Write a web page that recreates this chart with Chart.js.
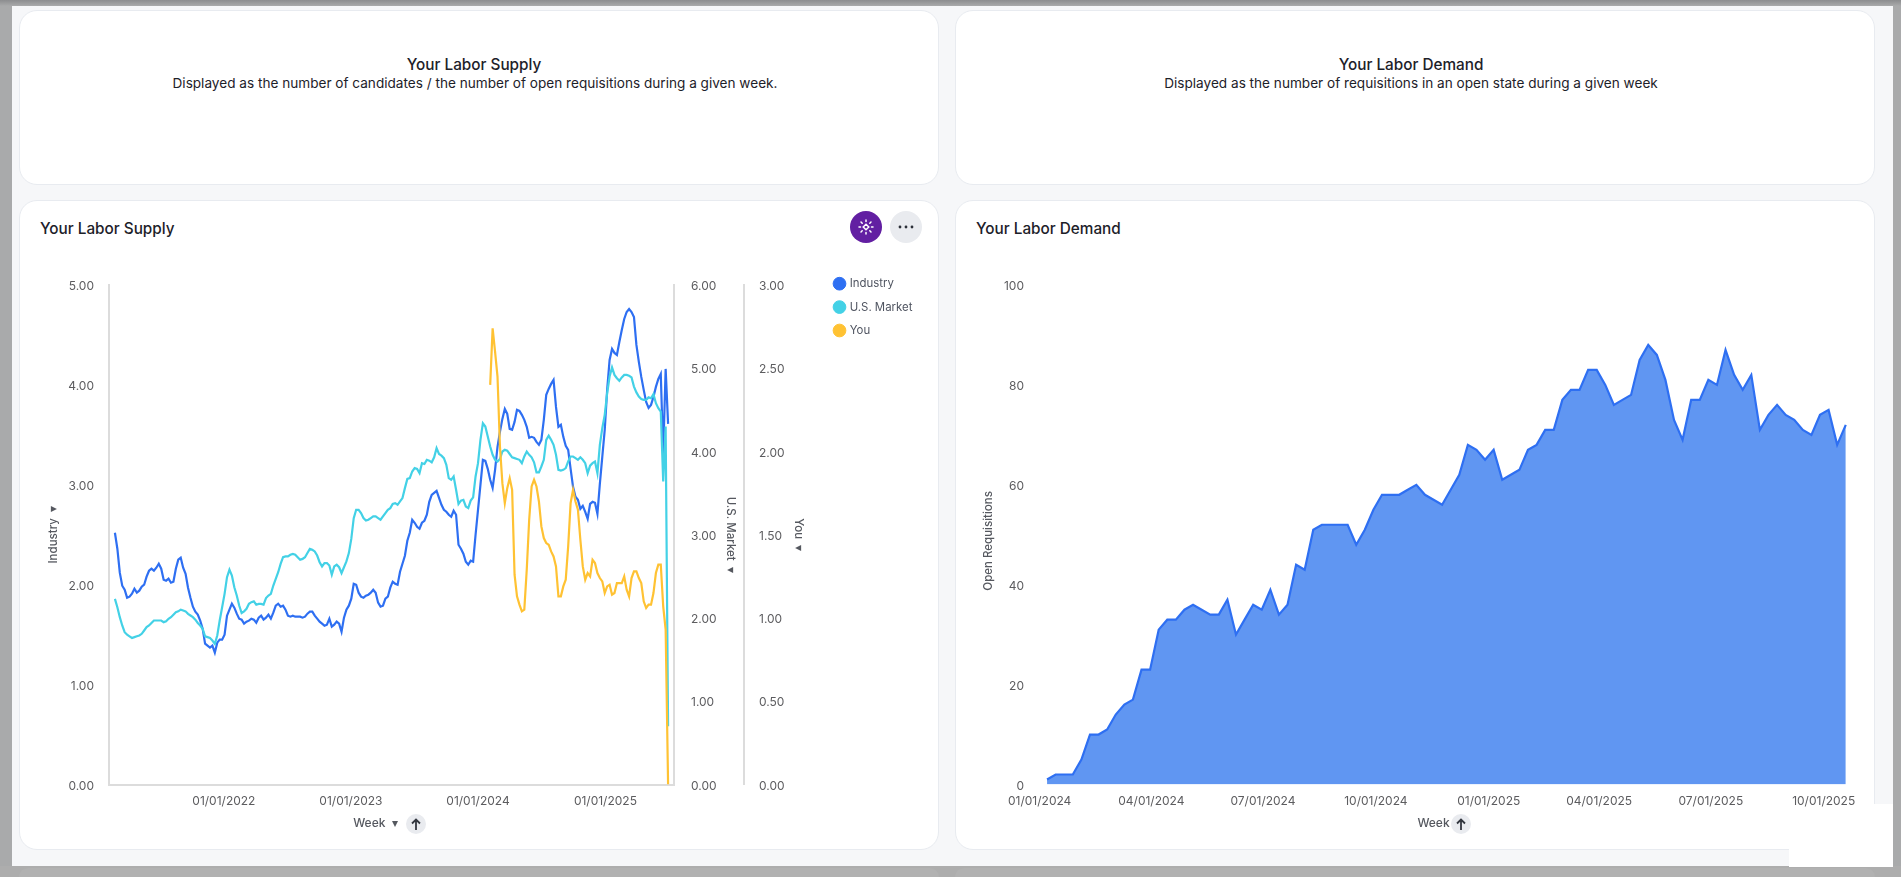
<!DOCTYPE html>
<html><head><meta charset="utf-8">
<script src="https://cdn.jsdelivr.net/npm/chart.js@4/dist/chart.umd.js"></script>
<style>
html,body{margin:0;padding:0;width:1901px;height:877px;overflow:hidden;background:#a9aaab;font-family:Inter,sans-serif;color:#1d2129}
#page{position:absolute;left:12px;top:6px;width:1881px;height:860px;background:#f6f7f9}
#topshade{position:absolute;left:0;top:0;width:1901px;height:6px;background:linear-gradient(#8c8d8f,#a9aaab)}
#botshade{position:absolute;left:0;top:866px;width:1901px;height:11px;background:#adadad}
.peek{position:absolute;top:868px;height:9px;width:920px;background:#b1b1b1;border-radius:16px 16px 0 0}
.card{position:absolute;background:#fff;border:1px solid #e8ebf0;border-radius:18px;box-sizing:border-box}
.h{position:absolute;white-space:nowrap;transform:translate(-50%,-50%);text-align:center}
.t16{font-size:15.3px;font-weight:500;color:#1d2129}
.t14{font-size:13.6px;font-weight:400;color:#1d2129}
.ct{position:absolute;font-size:15.3px;font-weight:500;color:#1d2129;white-space:nowrap;line-height:20px}
canvas{position:absolute}
.btn{position:absolute;border-radius:50%;display:flex;align-items:center;justify-content:center}
#patch{position:absolute;left:1789px;top:804px;width:104px;height:63px;background:#fff}
</style></head><body>
<div id="page"></div><div id="topshade"></div><div id="botshade"></div>
<div class="peek" style="left:19px"></div><div class="peek" style="left:955px"></div>
<div class="card" style="left:19px;top:10px;width:920px;height:175px"></div>
<div class="card" style="left:955px;top:10px;width:920px;height:175px"></div>
<div class="h t16" style="left:474px;top:64px">Your Labor Supply</div>
<div class="h t14" style="left:475px;top:83px">Displayed as the number of candidates / the number of open requisitions during a given week.</div>
<div class="h t16" style="left:1411px;top:64px">Your Labor Demand</div>
<div class="h t14" style="left:1411px;top:83px">Displayed as the number of requisitions in an open state during a given week</div>
<div class="card" style="left:19px;top:200px;width:920px;height:650px"></div>
<div class="card" style="left:955px;top:200px;width:920px;height:650px"></div>
<div id="patch"></div>
<div class="ct" style="left:40px;top:219px">Your Labor Supply</div>
<div class="ct" style="left:976px;top:219px">Your Labor Demand</div>
<div class="btn" style="left:850px;top:211px;width:32px;height:32px;background:#621fa2">
<svg width="16" height="16" viewBox="0 0 16 16" fill="none" stroke="#fff" stroke-width="1.5" stroke-linecap="round"><path d="M8 1v1.5M8 13.5V15M1 8h1.5M13.5 8H15M3 3l1.2 1.2M13 3l-1.2 1.2M3 13l1.2-1.2M13 13l-1.2-1.2"/><path d="M8 5.2L10.8 8 8 10.8 5.2 8z"/></svg></div>
<div class="btn" style="left:890px;top:211px;width:32px;height:32px;background:#e9ebef">
<svg width="16" height="4" viewBox="0 0 16 4" fill="#2b2f38"><circle cx="2" cy="2" r="1.4"/><circle cx="8" cy="2" r="1.4"/><circle cx="14" cy="2" r="1.4"/></svg></div>
<canvas id="c1" style="left:20px;top:200px;width:918px;height:650px"></canvas>
<canvas id="c2" style="left:956px;top:200px;width:918px;height:650px"></canvas>
<div class="btn" style="left:406px;top:814px;width:20px;height:20px;background:#e9ebef">
<svg width="10" height="12" viewBox="0 0 10 12" fill="none" stroke="#33373f" stroke-width="1.8"><path d="M5 12V2M1 5.5L5 1.5 9 5.5"/></svg></div>
<div class="btn" style="left:1451px;top:814px;width:20px;height:20px;background:#e9ebef">
<svg width="10" height="12" viewBox="0 0 10 12" fill="none" stroke="#33373f" stroke-width="1.8"><path d="M5 12V2M1 5.5L5 1.5 9 5.5"/></svg></div>
<script>
const supplyStart = '2021-02-22';
const demandStart = '2024-01-07';
const supplyTickDates = ['2022-01-01','2023-01-01','2024-01-01','2025-01-01'];
const demandTickDates = ['2024-01-01','2024-04-01','2024-07-01','2024-10-01','2025-01-01','2025-04-01','2025-07-01','2025-10-01'];
const seriesNames = ['Industry','U.S. Market','You'];
const industry = [
2.52,2.36,2.12,1.99,1.95,1.87,1.88,1.91,1.96,1.92,
1.94,1.98,2.00,2.08,2.14,2.16,2.14,2.17,2.21,2.16,
2.05,2.04,2.06,2.02,2.03,2.16,2.25,2.27,2.17,2.11,
1.97,1.87,1.78,1.73,1.70,1.64,1.56,1.41,1.39,1.37,
1.39,1.32,1.42,1.45,1.45,1.50,1.69,1.75,1.81,1.77,
1.71,1.66,1.65,1.61,1.63,1.64,1.66,1.65,1.62,1.67,
1.69,1.65,1.67,1.70,1.66,1.72,1.79,1.81,1.78,1.79,
1.75,1.69,1.68,1.69,1.68,1.68,1.68,1.67,1.68,1.71,
1.73,1.73,1.69,1.66,1.63,1.61,1.59,1.60,1.66,1.58,
1.60,1.63,1.61,1.53,1.67,1.75,1.79,1.86,2.01,2.00,
1.92,1.88,1.87,1.89,1.90,1.92,1.95,1.92,1.82,1.78,
1.79,1.86,1.88,1.97,2.03,2.01,2.00,2.13,2.21,2.29,
2.44,2.52,2.65,2.62,2.58,2.56,2.62,2.64,2.70,2.83,
2.90,2.92,2.94,2.87,2.80,2.75,2.73,2.70,2.68,2.74,
2.70,2.40,2.36,2.31,2.23,2.20,2.24,2.23,2.50,2.75,
3.00,3.25,3.24,3.16,3.05,2.97,3.15,3.38,3.53,3.66,
3.76,3.71,3.56,3.55,3.63,3.75,3.74,3.70,3.65,3.58,
3.47,3.48,3.47,3.43,3.40,3.45,3.65,3.90,3.96,4.01,
4.05,3.78,3.58,3.60,3.48,3.39,3.35,3.16,2.98,2.88,
2.85,2.76,2.79,2.73,2.66,2.81,2.83,2.82,2.71,3.01,
3.28,3.55,3.95,4.25,4.36,4.32,4.30,4.43,4.55,4.66,
4.73,4.76,4.73,4.68,4.40,4.23,4.08,3.95,3.83,3.77,
3.80,3.88,3.98,4.06,4.11,3.31,4.16,3.61];
const usMarket = [
2.23,2.13,2.01,1.91,1.83,1.80,1.78,1.76,1.77,1.78,
1.79,1.81,1.85,1.89,1.91,1.94,1.97,1.97,1.97,1.97,
1.95,1.96,1.99,2.01,2.04,2.07,2.08,2.10,2.09,2.08,
2.05,2.03,2.01,1.98,1.94,1.91,1.87,1.78,1.77,1.76,
1.73,1.69,1.79,1.97,2.13,2.29,2.49,2.58,2.51,2.37,
2.27,2.15,2.06,2.08,2.11,2.17,2.19,2.20,2.16,2.17,
2.17,2.16,2.24,2.27,2.29,2.39,2.47,2.55,2.65,2.73,
2.74,2.74,2.76,2.77,2.76,2.73,2.70,2.71,2.73,2.78,
2.83,2.82,2.80,2.75,2.67,2.62,2.66,2.66,2.63,2.52,
2.62,2.64,2.61,2.54,2.61,2.68,2.78,2.95,3.20,3.30,
3.30,3.26,3.20,3.17,3.18,3.20,3.22,3.22,3.20,3.18,
3.22,3.26,3.30,3.32,3.37,3.38,3.36,3.40,3.44,3.56,
3.67,3.68,3.76,3.80,3.79,3.74,3.86,3.85,3.90,3.89,
3.87,3.93,4.04,3.97,3.95,3.92,3.84,3.68,3.66,3.70,
3.54,3.37,3.41,3.42,3.34,3.32,3.41,3.45,3.70,3.86,
4.14,4.34,4.30,4.18,4.06,3.96,3.90,3.88,3.91,4.00,
4.02,4.01,3.97,3.93,3.92,3.91,3.90,3.86,3.94,4.00,
3.96,3.93,3.87,3.75,3.75,3.82,3.90,4.14,4.19,4.14,
4.08,3.96,3.78,3.77,3.78,3.80,3.88,3.94,3.94,3.92,
3.90,3.93,3.90,3.86,3.74,3.83,3.86,3.88,3.74,4.08,
4.28,4.44,4.70,4.90,5.01,4.92,4.88,4.85,4.89,4.92,
4.92,4.91,4.89,4.78,4.71,4.66,4.63,4.62,4.62,4.65,
4.64,4.69,4.58,4.52,4.48,3.64,4.30,0.70];
const youLeadingGaps = 154;
const you = [
2.40,2.74,2.60,2.45,2.03,1.81,
1.69,1.78,1.84,1.77,1.26,1.13,1.08,1.04,1.05,1.29,
1.59,1.79,1.83,1.79,1.70,1.55,1.48,1.45,1.44,1.40,
1.37,1.31,1.13,1.13,1.19,1.23,1.43,1.69,1.77,1.70,
1.65,1.47,1.31,1.23,1.27,1.25,1.35,1.33,1.27,1.24,
1.22,1.15,1.19,1.20,1.14,1.15,1.21,1.21,1.21,1.25,
1.17,1.13,1.24,1.28,1.28,1.24,1.21,1.10,1.06,1.08,
1.08,1.15,1.27,1.32,1.32,1.07,0.93,0];
const requisitions = [
1,2,2,2,5,10,10,11,14,16,
17,23,23,31,33,33,35,36,35,34,
34,37,30,33,36,35,39,34,36,44,
43,51,52,52,52,52,48,51,55,58,
58,58,59,60,58,57,56,59,62,68,
67,65,67,61,62,63,67,68,71,71,
77,79,79,83,83,80,76,77,78,85,
88,86,81,73,69,77,77,81,80,87,
82,79,82,71,74,76,74,73,71,70,
74,75,68,72];

const WEEK = 7*864e5;
const ms = s => Date.parse(s + 'T00:00:00Z');
const weekly = (start,n) => Array.from({length:n},(_,i)=>ms(start)+i*WEEK);
const fmtDate = v => { const d=new Date(v); const p=n=>String(n).padStart(2,'0');
  return p(d.getUTCMonth()+1)+'/'+p(d.getUTCDate())+'/'+d.getUTCFullYear(); };
const pairs = (xs,ys,off=0) => ys.map((y,i)=>({x:xs[i+off],y}));

const BLUE='#2e6ff2', TEAL='#43d1e6', YEL='#ffc233', AXIS='#dcdcdc', TICK='#5c5c5f', TITLE='#55585f';
Chart.defaults.font.family='Inter, sans-serif';
Chart.defaults.font.size=12;
Chart.defaults.color=TICK;
Chart.defaults.animation=false;
Chart.defaults.responsive=false;

function xAxis(minD,maxD,tickDates,title,h,border){
  return {type:'linear',min:ms(minD),max:ms(maxD),
    afterBuildTicks:s=>{s.ticks=tickDates.map(d=>({value:ms(d)}));},
    afterFit:s=>{s.height=h;},
    grid:{display:false},border:{display:border,color:AXIS,width:2},
    ticks:{autoSkip:false,maxRotation:0,padding:2,font:{size:12},color:TICK,callback:v=>fmtDate(v)},
    title:{display:true,text:title,color:TITLE,font:{size:12,weight:'500'},padding:{top:0,bottom:19}}};
}
function yAxis(pos,max,step,dec,title,w,pad,tp,weight,border){
  return {type:'linear',position:pos,min:0,max,weight,
    afterFit:s=>{s.width=w;},
    afterBuildTicks:s=>{const t=[];for(let v=0;v<=max+1e-9;v+=step)t.push({value:+v.toFixed(3)});s.ticks=t;},
    grid:{display:false},border:{display:border,color:AXIS,width:2},
    ticks:{padding:pad,labelOffset:1.5,font:{size:12},color:TICK,callback:v=>v.toFixed(dec)},
    title:{display:true,text:title,color:TITLE,font:{size:11.5,weight:'500'},padding:{top:tp,bottom:0}}};
}
const moveLegend={id:'moveLegend',afterLayout(c){ const l=c.legend; if(l&&l.options.display){l.left=803;l.top=66;l.right=918;l.bottom=160;} }};

const supWeeks=weekly(supplyStart,industry.length);
new Chart(document.getElementById('c1'),{
  type:'line',
  data:{datasets:[
    {label:seriesNames[0],data:pairs(supWeeks,industry),yAxisID:'yI',borderColor:BLUE,backgroundColor:BLUE,order:3},
    {label:seriesNames[1],data:pairs(supWeeks,usMarket),yAxisID:'yU',borderColor:TEAL,backgroundColor:TEAL,order:2},
    {label:seriesNames[2],data:pairs(supWeeks,you,youLeadingGaps),yAxisID:'yY',borderColor:YEL,backgroundColor:YEL,order:1}
  ]},
  options:{
    devicePixelRatio:1,parsing:{xAxisKey:'x',yAxisKey:'y'},
    elements:{point:{radius:0},line:{borderWidth:2.2,tension:0}},
    layout:{padding:{top:85,left:0,right:126,bottom:0}},
    scales:{
      x:xAxis('2021-02-05','2025-07-17',supplyTickDates,'Week \u00A0\u25BE\u00A0\u00A0\u00A0\u00A0\u00A0\u00A0\u00A0\u00A0\u00A0\u00A0',65.5,true),
      yI:yAxis('left',5,1,2,'Industry \u00A0\u25BE',89,7,26.5,0,true),
      yU:yAxis('right',6,1,2,'U.S. Market \u00A0\u25BE',70,9,7,0,true),
      yY:yAxis('right',3,0.5,2,'You \u00A0\u25BE',68,7,7,1,true)
    },
    plugins:{tooltip:{enabled:false},
      legend:{display:true,position:'chartArea',align:'start',
        labels:{usePointStyle:true,pointStyle:'circle',boxWidth:9,boxHeight:9,padding:12,color:'#4f5460',font:{size:11.4},
          sort:(a,b)=>a.datasetIndex-b.datasetIndex}}}
  },
  plugins:[moveLegend]
}).resize(918,650);

const demWeeks=weekly(demandStart,requisitions.length);
new Chart(document.getElementById('c2'),{
  type:'line',
  data:{datasets:[{label:'Open Requisitions',data:pairs(demWeeks,requisitions),borderColor:BLUE,backgroundColor:'#6096f2',fill:'origin'}]},
  options:{
    devicePixelRatio:1,
    elements:{point:{radius:0},line:{borderWidth:2.2,tension:0}},
    layout:{padding:{top:85,left:0,right:27,bottom:0}},
    scales:{
      x:xAxis('2023-12-29','2025-10-20',demandTickDates,'Week\u00A0\u00A0\u00A0\u00A0\u00A0',65.5,false),
      y:yAxis('left',100,20,0,'Open Requisitions\u00A0\u00A0\u00A0\u00A0',80,4,25.5,0,false)
    },
    plugins:{tooltip:{enabled:false},legend:{display:false}}
  }
}).resize(918,650);
</script>
</body></html>
